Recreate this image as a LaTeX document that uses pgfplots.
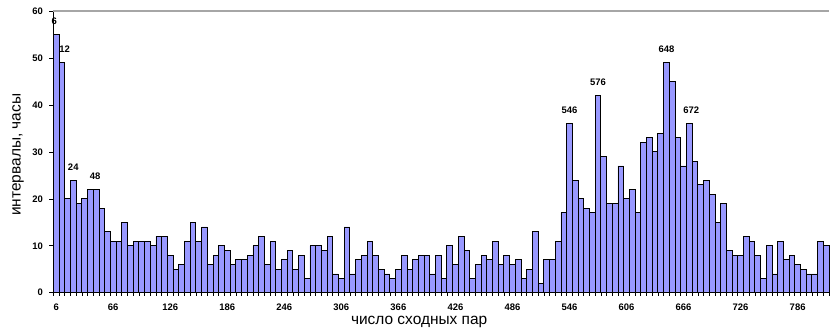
\documentclass[border=0pt]{standalone}
\usepackage{fontspec}
\setmainfont{Liberation Sans}
\usepackage{pgfplots}
\pgfplotsset{compat=1.18}
\definecolor{barblue}{HTML}{9999FF}
\begin{document}
\begin{tikzpicture}
\useasboundingbox (0,0) rectangle (830bp,335bp);
\begin{axis}[
  scale only axis, width=775.7bp, height=281.7bp,
  at={(53.3bp,42.3bp)}, anchor=south west,
  xmin=3, xmax=819, ymin=0, ymax=60,
  axis x line*=bottom, axis y line*=left,
  axis line style={black, line width=0.8bp},
  tick align=outside,
  xtick={6,66,...,786},
  minor xtick={3,9,...,819},
  major x tick style={draw=none},
  minor tick length=3bp, major tick length=4bp,
  every tick/.style={black, line width=0.6bp},
  ytick={0,10,...,60},
  /pgf/number format/assume math mode=true,
  tick label style={font=\bfseries\fontsize{9.5}{11}\selectfont},
  xticklabel style={yshift=-3.5bp},
  yticklabel style={xshift=-3bp},
  xlabel={число сходных пар},
  ylabel={интервалы, часы},
  label style={font=\fontsize{15.5}{18}\selectfont},
  xlabel style={at={(axis description cs:0.4716,-0.1054)}, anchor=center},
  ylabel style={at={(axis description cs:-0.0455,0.49)}, anchor=center},
  clip=false,
]
\addplot[ybar, bar width=6, fill=barblue, draw=black, line width=0.8bp] coordinates {
(6,55) (12,49) (18,20) (24,24) (30,19) (36,20) (42,22) (48,22) (54,18) (60,13)
(66,11) (72,11) (78,15) (84,10) (90,11) (96,11) (102,11) (108,10) (114,12) (120,12)
(126,8) (132,5) (138,6) (144,11) (150,15) (156,11) (162,14) (168,6) (174,8) (180,10)
(186,9) (192,6) (198,7) (204,7) (210,8) (216,10) (222,12) (228,6) (234,11) (240,5)
(246,7) (252,9) (258,5) (264,8) (270,3) (276,10) (282,10) (288,9) (294,12) (300,4)
(306,3) (312,14) (318,4) (324,7) (330,8) (336,11) (342,8) (348,5) (354,4) (360,3)
(366,5) (372,8) (378,5) (384,7) (390,8) (396,8) (402,4) (408,8) (414,3) (420,10)
(426,6) (432,12) (438,9) (444,3) (450,6) (456,8) (462,7) (468,11) (474,6) (480,8)
(486,6) (492,7) (498,3) (504,5) (510,13) (516,2) (522,7) (528,7) (534,11) (540,17)
(546,36) (552,24) (558,20) (564,18) (570,17) (576,42) (582,29) (588,19) (594,19) (600,27)
(606,20) (612,22) (618,17) (624,32) (630,33) (636,30) (642,34) (648,49) (654,45) (660,33)
(666,27) (672,36) (678,28) (684,23) (690,24) (696,21) (702,15) (708,19) (714,9) (720,8)
(726,8) (732,12) (738,11) (744,8) (750,3) (756,10) (762,4) (768,11) (774,7) (780,8)
(786,6) (792,5) (798,4) (804,4) (810,11) (816,10)
};
\addplot[draw=none, mark=none, nodes near coords, point meta=explicit symbolic,
  every node near coord/.append style={font=\bfseries\fontsize{9.5}{11}\selectfont, anchor=south, inner sep=1bp, yshift=8.5bp}]
coordinates {(4,55) [6] (15,49) [12] (24,24) [24] (47,22) [48] (546,36) [546] (576,42) [576] (648,49) [648] (674,36) [672]};
\draw[gray!70, line width=1.2bp] (rel axis cs:0,1) -- (rel axis cs:1,1);
\end{axis}
\end{tikzpicture}
\end{document}
